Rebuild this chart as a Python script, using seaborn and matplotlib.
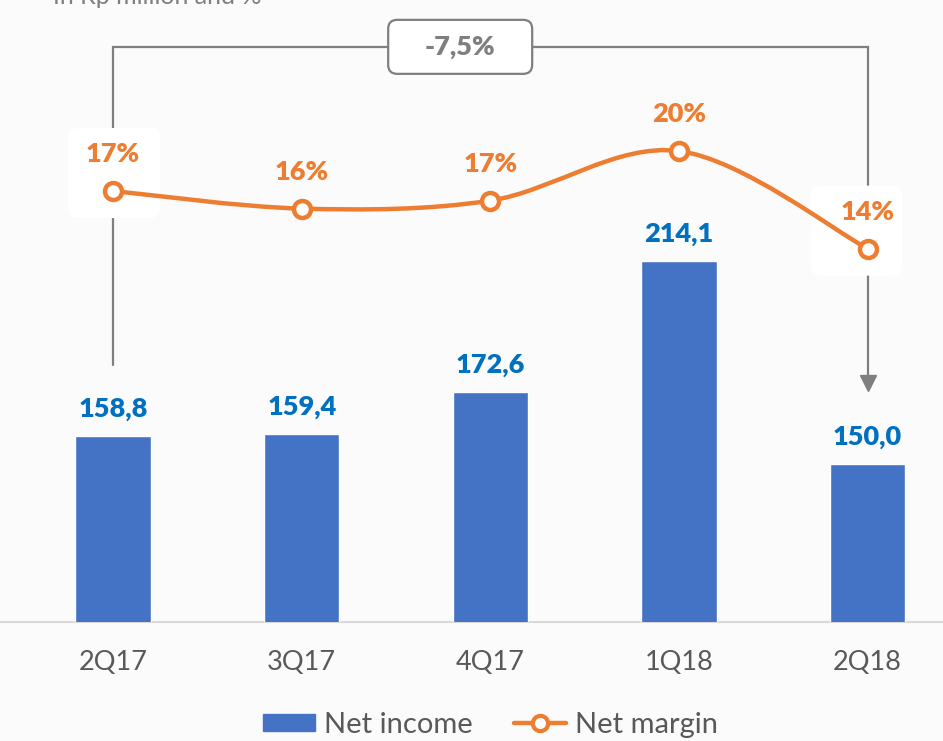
import numpy as np
import pandas as pd
import seaborn as sns
import matplotlib.pyplot as plt
from matplotlib.path import Path
from matplotlib.patches import PathPatch, FancyBboxPatch
from matplotlib.lines import Line2D
from matplotlib.patches import Patch
from matplotlib.transforms import IdentityTransform

quarters = ["2Q17", "3Q17", "4Q17", "1Q18", "2Q18"]
net_income = [158.8, 159.4, 172.6, 214.1, 150.0]
income_labels = ["158,8", "159,4", "172,6", "214,1", "150,0"]
net_margin = [17.4, 16.3, 16.8, 19.9, 13.8]
margin_labels = ["17%", "16%", "17%", "20%", "14%"]
change_label = "-7,5%"

BLUE = "#4472C4"
BLUE_TXT = "#0070C0"
ORANGE = "#ED7D31"
GRAY = "#7F7F7F"
BG = "#FBFBFB"

sns.set_style("white")
plt.rcParams["font.family"] = ["Lato", "DejaVu Sans"]

df = pd.DataFrame({"quarter": quarters, "income": net_income, "margin": net_margin})

fig = plt.figure(figsize=(9.43, 7.41), dpi=100, facecolor=BG)
ax = fig.add_axes([0, 119 / 741, 1, 622 / 741])
ax.set_facecolor("none")

sns.barplot(data=df, x="quarter", y="income", color=BLUE, width=0.4,
            saturation=1, ax=ax, zorder=3)
ax.set_xlim(-0.6, 4.4)
ax.set_ylim(100, 296.5)
ax.set_xlabel("")
ax.set_ylabel("")
ax.set_yticks([])
ax.tick_params(axis="x", length=0, pad=20, labelsize=19.5, labelcolor="#595959")
for s in ["top", "left", "right"]:
    ax.spines[s].set_visible(False)
ax.spines["bottom"].set_color("#D9D9D9")
ax.spines["bottom"].set_linewidth(1.5)

for i, (v, lab) in enumerate(zip(net_income, income_labels)):
    ax.text(i, v + 8.5, lab, ha="center", va="center", fontsize=19.5,
            fontweight="heavy", color=BLUE_TXT, zorder=5)

# bracket from first to last quarter
top = 281.7
ax.plot([0, 0, 4, 4], [181.2, top, top, 178.0], color=GRAY, lw=1.6,
        zorder=1, solid_joinstyle="miter")
ax.plot([4], [175.5], marker="v", color=GRAY, markersize=11, zorder=1)

# net margin on secondary axis
ax2 = ax.twinx()
ax2.set_ylim(-9.54, 29.34)
ax2.set_yticks([])
for s in ax2.spines.values():
    s.set_visible(False)

fig.canvas.draw()

# change label box
cx, cy = ax.transData.transform((1.84, top))
ax.add_artist(FancyBboxPatch((cx - 72, cy - 27), 144, 54,
                             boxstyle="round,pad=0,rounding_size=9",
                             transform=IdentityTransform(), fc="white",
                             ec=GRAY, lw=1.6, zorder=2))
ax.text(1.84, top, change_label, ha="center", va="center", fontsize=19.5,
        fontweight="heavy", color=GRAY, zorder=6)

# white boxes hiding the bracket behind first / last labels
for i, dx in [(0, 1), (4, -11)]:
    px, py = ax2.transData.transform((i, net_margin[i]))
    box = FancyBboxPatch((px + dx - 46, py + 18 - 45), 92, 90,
                         boxstyle="round,pad=0,rounding_size=10",
                         transform=IdentityTransform(), fc="white", ec="none",
                         zorder=2)
    ax.add_artist(box)

# smooth curve through the points (Catmull-Rom to Bezier)
pts = np.column_stack([np.arange(len(net_margin)), net_margin]).astype(float)
ext = np.vstack([pts[0], pts, pts[-1]])
verts = [tuple(pts[0])]
codes = [Path.MOVETO]
for k in range(1, len(ext) - 2):
    p0, p1, p2, p3 = ext[k - 1], ext[k], ext[k + 1], ext[k + 2]
    c1 = p1 + (p2 - p0) / 6
    c2 = p2 - (p3 - p1) / 6
    verts += [tuple(c1), tuple(c2), tuple(p2)]
    codes += [Path.CURVE4] * 3
ax2.add_patch(PathPatch(Path(verts, codes), fc="none", ec=ORANGE, lw=3.2,
                        zorder=3))
sns.scatterplot(data=df, x="quarter", y="margin", ax=ax2, s=150,
                facecolor="white", edgecolor=ORANGE, linewidth=3.2, zorder=4)
ax2.set_xlim(-0.6, 4.4)
ax2.set_xlabel("")
ax2.set_ylabel("")
for i, (v, lab) in enumerate(zip(net_margin, margin_labels)):
    ax2.text(i, v + 2.3, lab, ha="center", va="center", fontsize=19.5,
             fontweight="heavy", color=ORANGE, zorder=5)

fig.text(0.056, 0.994, "In Rp million and %", ha="left", va="baseline",
         fontsize=18, color="#7F7F7F")

handles = [Patch(color=BLUE),
           Line2D([], [], color=ORANGE, lw=3.2, marker="o", markersize=11,
                  markerfacecolor="white", markeredgewidth=3)]
fig.legend(handles, ["Net income", "Net margin"], loc="center",
           bbox_to_anchor=(0.52, 0.022), ncol=2, frameon=False, fontsize=21,
           labelcolor="#595959", handlelength=1.8, handleheight=0.5,
           handletextpad=0.3, columnspacing=1.4)

fig.savefig("out.png", dpi=100, facecolor=BG)
